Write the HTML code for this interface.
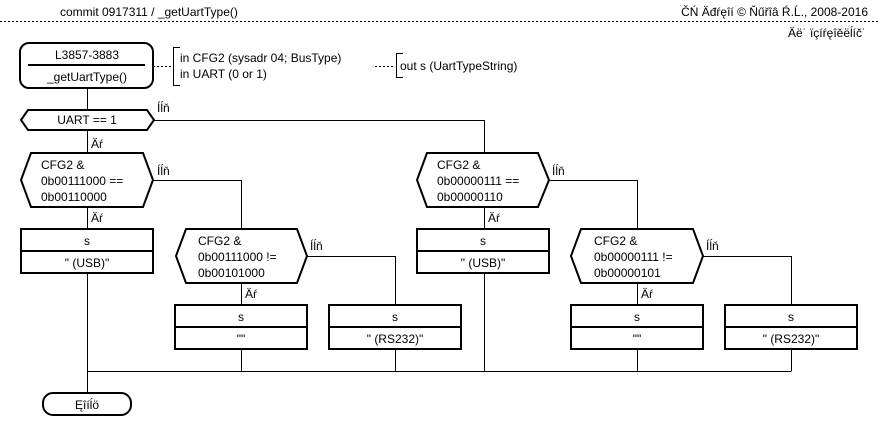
<!DOCTYPE html>
<html><head><meta charset="utf-8"><style>
html,body{margin:0;padding:0;background:#fff;width:879px;height:437px;overflow:hidden}
svg{display:block}
text{font-family:"Liberation Sans","DejaVu Sans",sans-serif;font-size:12px;fill:#000}
</style></head><body>
<svg width="879" height="437" viewBox="0 0 879 437">
<g fill="none" stroke="#000">
<line x1="0" y1="21.5" x2="879" y2="21.5" stroke-dasharray="2,2"/>
<rect x="20" y="43" width="133" height="45" rx="9" stroke-width="2"/>
<line x1="28" y1="65" x2="145" y2="65" stroke-width="2"/>
<line x1="153" y1="66.5" x2="173" y2="66.5" stroke-dasharray="2,2"/>
<polyline points="180,47.5 173.5,47.5 173.5,85.5 180,85.5"/>
<line x1="375" y1="66.5" x2="395" y2="66.5" stroke-dasharray="2,2"/>
<polyline points="403,53.5 396.5,53.5 396.5,77.5 403,77.5"/>
<g stroke-width="1">
<line x1="87.5" y1="88" x2="87.5" y2="109"/>
<polyline points="153,120.5 484.5,120.5 484.5,152"/>
<line x1="87.5" y1="130" x2="87.5" y2="152"/>
<polyline points="153,180.5 241.5,180.5 241.5,229"/>
<line x1="87.5" y1="207" x2="87.5" y2="229"/>
<line x1="87.5" y1="273" x2="87.5" y2="393"/>
<polyline points="307,256.5 395.5,256.5 395.5,305"/>
<line x1="241.5" y1="283" x2="241.5" y2="305"/>
<line x1="241.5" y1="349" x2="241.5" y2="371"/>
<line x1="395.5" y1="349" x2="395.5" y2="371"/>
<polyline points="549,180.5 637.5,180.5 637.5,229"/>
<line x1="484.5" y1="207" x2="484.5" y2="229"/>
<line x1="484.5" y1="273" x2="484.5" y2="371"/>
<polyline points="703,256.5 791.5,256.5 791.5,305"/>
<line x1="637.5" y1="283" x2="637.5" y2="305"/>
<line x1="637.5" y1="349" x2="637.5" y2="371"/>
<line x1="791.5" y1="349" x2="791.5" y2="371"/>
<line x1="87.5" y1="371.5" x2="791.5" y2="371.5"/>
</g>
<g stroke-width="2">
<polygon points="21,120 28,110 147,110 154,120 147,130 28,130"/>
<polygon points="21,180 31,153 143,153 153,180 143,207 31,207"/>
<rect x="21" y="229" width="132" height="44"/><line x1="21" y1="251" x2="153" y2="251"/>
<polygon points="176,256 186,229 297,229 307,256 297,283 186,283"/>
<rect x="175" y="305" width="132" height="44"/><line x1="175" y1="327" x2="307" y2="327"/>
<rect x="329" y="305" width="132" height="44"/><line x1="329" y1="327" x2="461" y2="327"/>
<polygon points="417,180 427,153 538,153 549,180 538,207 427,207"/>
<rect x="417" y="229" width="132" height="44"/><line x1="417" y1="251" x2="549" y2="251"/>
<polygon points="571,256 581,229 693,229 703,256 693,283 581,283"/>
<rect x="571" y="305" width="132" height="44"/><line x1="571" y1="327" x2="703" y2="327"/>
<rect x="725" y="305" width="132" height="44"/><line x1="725" y1="327" x2="857" y2="327"/>
<rect x="43" y="393" width="88" height="22" rx="10"/>
</g>
</g>
<text x="60" y="16">commit 0917311 / _getUartType()</text>
<text x="868" y="16" text-anchor="end">ČŃ Äđŕęîí © Ňűřîâ Ŕ.Ĺ., 2008-2016</text>
<text x="866" y="37" text-anchor="end">Äë˙ ïçíŕęîěëĺíč˙</text>
<text x="87" y="59" text-anchor="middle">L3857-3883</text>
<text x="87" y="81" text-anchor="middle">_getUartType()</text>
<text x="180" y="62">in CFG2 (sysadr 04; BusType)</text>
<text x="180" y="78">in UART (0 or 1)</text>
<text x="400" y="70">out s (UartTypeString)</text>
<text x="87" y="124" text-anchor="middle">UART == 1</text>
<text x="157" y="112">Íĺň</text>
<text x="91" y="148">Äŕ</text>
<text x="41" y="169">CFG2 &amp;</text><text x="41" y="185">0b00111000 ==</text><text x="41" y="201">0b00110000</text>
<text x="157" y="175">Íĺň</text>
<text x="91" y="222">Äŕ</text>
<text x="87" y="245" text-anchor="middle">s</text><text x="87" y="267" text-anchor="middle">" (USB)"</text>
<text x="198" y="245">CFG2 &amp;</text><text x="198" y="261">0b00111000 !=</text><text x="198" y="277">0b00101000</text>
<text x="310" y="250">Íĺň</text>
<text x="245" y="298">Äŕ</text>
<text x="241" y="321" text-anchor="middle">s</text><text x="241" y="343" text-anchor="middle">""</text>
<text x="395" y="321" text-anchor="middle">s</text><text x="395" y="343" text-anchor="middle">" (RS232)"</text>
<text x="437" y="169">CFG2 &amp;</text><text x="437" y="185">0b00000111 ==</text><text x="437" y="201">0b00000110</text>
<text x="552" y="175">Íĺň</text>
<text x="488" y="222">Äŕ</text>
<text x="483" y="245" text-anchor="middle">s</text><text x="483" y="267" text-anchor="middle">" (USB)"</text>
<text x="594" y="245">CFG2 &amp;</text><text x="594" y="261">0b00000111 !=</text><text x="594" y="277">0b00000101</text>
<text x="706" y="250">Íĺň</text>
<text x="641" y="298">Äŕ</text>
<text x="637" y="321" text-anchor="middle">s</text><text x="637" y="343" text-anchor="middle">""</text>
<text x="791" y="321" text-anchor="middle">s</text><text x="791" y="343" text-anchor="middle">" (RS232)"</text>
<text x="87" y="409" text-anchor="middle">Ęîíĺö</text>
</svg>
</body></html>
